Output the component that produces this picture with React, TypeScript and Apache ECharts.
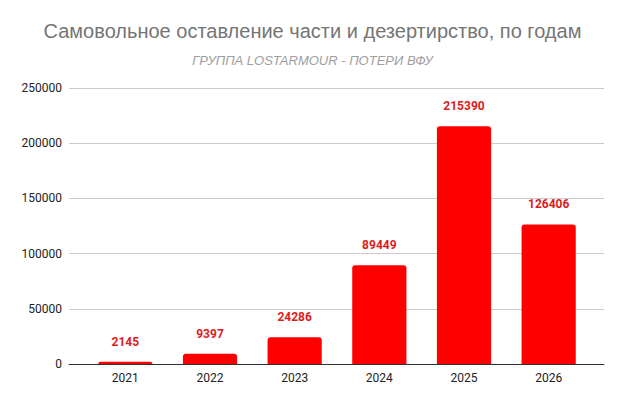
import React, { useEffect, useRef } from "react";
import * as echarts from "echarts";

const titleText = "Самовольное оставление части и дезертирство, по годам";
const subtitleText = "ГРУППА LOSTARMOUR - ПОТЕРИ ВФУ";
const years = ["2021", "2022", "2023", "2024", "2025", "2026"];
const values = [2145, 9397, 24286, 89449, 215390, 126406];
const yMin = 0;
const yMax = 250000;
const yStep = 50000;

export default function App() {
  const ref = useRef<HTMLDivElement>(null);
  useEffect(() => {
    document.body.style.margin = "0";
    const chart = echarts.init(ref.current!, null, { renderer: "svg" });
    chart.setOption({
      animation: false,
      backgroundColor: "#ffffff",
      title: {
        text: titleText,
        subtext: subtitleText,
        left: "center",
        top: 14,
        itemGap: 9,
        textStyle: {
          fontFamily: "Liberation Sans, Arial, sans-serif",
          fontSize: 20,
          fontWeight: "normal",
          color: "#757575",
          lineHeight: 24,
        },
        subtextStyle: {
          fontFamily: "Liberation Sans, Arial, sans-serif",
          fontSize: 13,
          fontStyle: "italic",
          color: "#9e9e9e",
          lineHeight: 16,
        },
      },
      grid: [
        { left: 69, right: 21, top: 88, bottom: 41 },
        { left: 83, right: 34, top: 88, bottom: 41 },
      ],
      xAxis: [
        {
          gridIndex: 0,
          type: "value",
          min: 0,
          max: 1,
          axisLine: { show: true, onZero: false, lineStyle: { color: "#333333", width: 1 } },
          axisTick: { show: false },
          axisLabel: { show: false },
          splitLine: { show: false },
        },
        {
          gridIndex: 1,
          type: "category",
          data: years,
          axisLine: { show: false },
          axisTick: { show: false },
          axisLabel: {
            margin: 8,
            fontFamily: "Roboto, sans-serif",
            fontSize: 12,
            color: "#222222",
          },
        },
      ],
      yAxis: [
        {
          gridIndex: 0,
          type: "value",
          min: yMin,
          max: yMax,
          interval: yStep,
          axisLine: { show: false },
          axisTick: { show: false },
          axisLabel: {
            margin: 7,
            fontFamily: "Roboto, sans-serif",
            fontSize: 12,
            color: "#222222",
            formatter: (v: number) => String(v),
          },
          splitLine: { lineStyle: { color: "#cccccc", width: 1 } },
        },
        {
          gridIndex: 1,
          type: "value",
          min: yMin,
          max: yMax,
          interval: yStep,
          show: false,
          splitLine: { show: false },
        },
      ],
      series: [
        {
          type: "bar",
          xAxisIndex: 1,
          yAxisIndex: 1,
          data: values,
          barWidth: "64%",
          itemStyle: { color: "#ff0000", borderRadius: [3, 3, 0, 0] },
          label: {
            show: true,
            position: "top",
            distance: 14,
            fontFamily: "Roboto, sans-serif",
            fontSize: 12,
            fontWeight: "bold",
            color: "#dc1c1c",
          },
        },
      ],
    });
    return () => chart.dispose();
  }, []);
  return <div ref={ref} style={{ width: 625, height: 405 }} />;
}
